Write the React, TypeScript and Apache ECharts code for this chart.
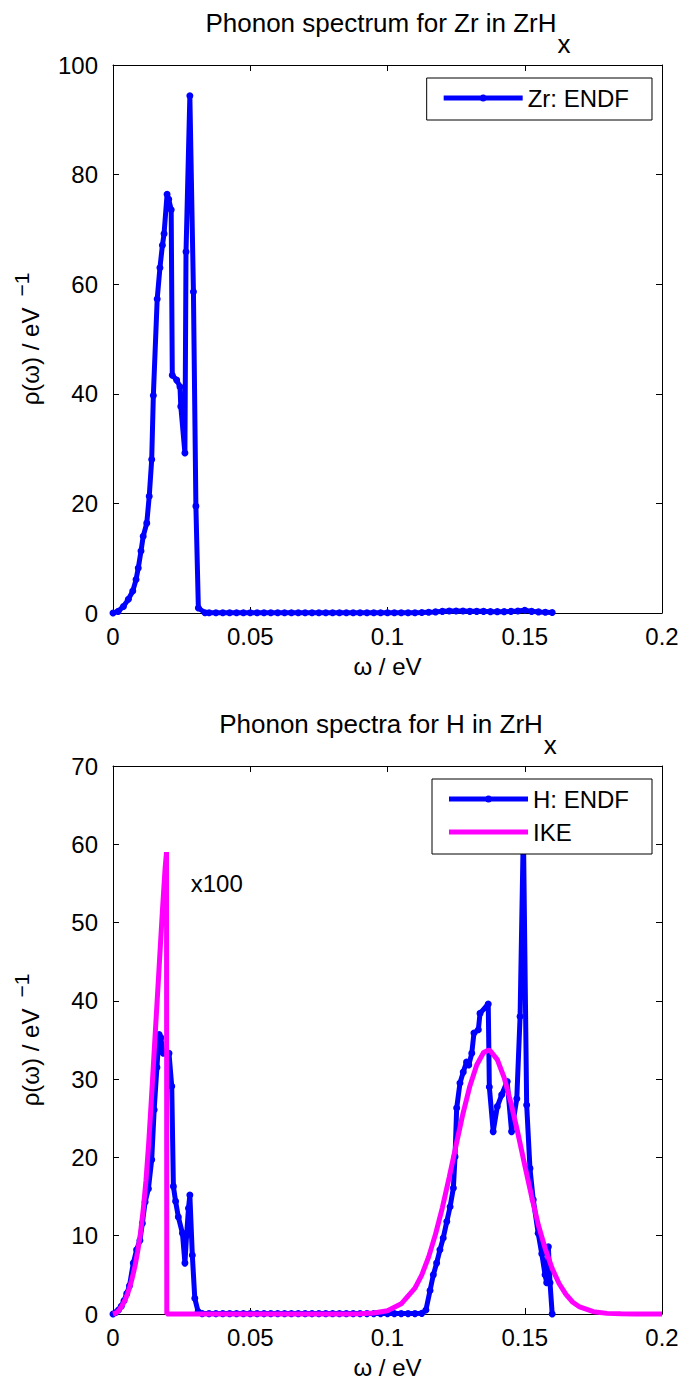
import React, { useEffect, useRef } from 'react';
import * as echarts from 'echarts';

const FONT = '"Liberation Sans", Arial, Helvetica, sans-serif';
const BLUE = '#0000ff';
const MAGENTA = '#ff00ff';

const xTickValues = [0, 0.05, 0.1, 0.15, 0.2];

// Zr: ENDF phonon spectrum  [omega (eV), rho (1/eV)]
const zrEndf: [number, number][] = [
  [0, 0], [0.0019, 0.3], [0.0038, 1.2], [0.0056, 2.5], [0.0072, 4.0], [0.0084, 6.1],
  [0.0092, 8.2], [0.0102, 11.3], [0.011, 14.0], [0.0123, 16.4], [0.0132, 21.3],
  [0.0141, 28.0], [0.0147, 39.7], [0.0161, 57.3], [0.0171, 63.0], [0.018, 67.1],
  [0.0186, 69.2], [0.0197, 76.4], [0.0203, 75.5], [0.0212, 73.6], [0.0216, 43.4],
  [0.0232, 42.5], [0.0244, 41.3], [0.0247, 37.7], [0.0262, 29.2], [0.0266, 65.9],
  [0.028, 94.4], [0.0293, 58.6], [0.0302, 19.5], [0.0311, 0.9], [0.0335, 0.05],
  [0.035, 0.05], [0.0375, 0.05], [0.04, 0.05], [0.0425, 0.05], [0.045, 0.05],
  [0.0475, 0.05], [0.05, 0.05], [0.0525, 0.05], [0.055, 0.05], [0.0575, 0.05],
  [0.06, 0.05], [0.0625, 0.05], [0.065, 0.05], [0.0675, 0.05], [0.07, 0.05],
  [0.0725, 0.05], [0.075, 0.05], [0.0775, 0.05], [0.08, 0.05], [0.0825, 0.05],
  [0.085, 0.05], [0.0875, 0.05], [0.09, 0.05], [0.0925, 0.05], [0.095, 0.05],
  [0.0975, 0.05], [0.1, 0.05], [0.1025, 0.05], [0.105, 0.05], [0.1075, 0.05],
  [0.11, 0.05], [0.1125, 0.08], [0.115, 0.15], [0.1175, 0.2], [0.12, 0.3],
  [0.1225, 0.35], [0.125, 0.35], [0.1275, 0.35], [0.13, 0.3], [0.1325, 0.3],
  [0.135, 0.3], [0.1375, 0.25], [0.14, 0.25], [0.1425, 0.25], [0.145, 0.3],
  [0.1475, 0.35], [0.15, 0.5], [0.1525, 0.3], [0.155, 0.2], [0.1575, 0.15], [0.16, 0.1],
];

// H: ENDF phonon spectrum
const hEndf: [number, number][] = [
  [0, 0], [0.001, 0.2], [0.002, 0.5], [0.003, 1.0], [0.004, 1.7], [0.005, 2.6],
  [0.006, 3.6], [0.0074, 6.5], [0.0086, 8.2], [0.0098, 9.4], [0.0107, 11.6],
  [0.0117, 14.3], [0.0129, 16.0], [0.0141, 19.7], [0.015, 26.1], [0.016, 31.5],
  [0.0168, 35.7], [0.0174, 35.3], [0.0183, 33.3], [0.0204, 33.3], [0.0214, 29.1],
  [0.022, 16.3], [0.0228, 14.4], [0.0238, 12.4], [0.0253, 10.3], [0.0262, 6.5],
  [0.0268, 10.0], [0.0275, 13.5], [0.028, 15.2], [0.0289, 7.5], [0.0298, 2.0],
  [0.031, 0.3], [0.0325, 0.05], [0.035, 0.05], [0.0375, 0.05], [0.04, 0.05],
  [0.0425, 0.05], [0.045, 0.05], [0.0475, 0.05], [0.05, 0.05], [0.0525, 0.05],
  [0.055, 0.05], [0.0575, 0.05], [0.06, 0.05], [0.0625, 0.05], [0.065, 0.05],
  [0.0675, 0.05], [0.07, 0.05], [0.0725, 0.05], [0.075, 0.05], [0.0775, 0.05],
  [0.08, 0.05], [0.0825, 0.05], [0.085, 0.05], [0.0875, 0.05], [0.09, 0.05],
  [0.0925, 0.05], [0.095, 0.05], [0.0975, 0.05], [0.1, 0.05], [0.1025, 0.05],
  [0.105, 0.05], [0.1075, 0.05], [0.11, 0.05], [0.1125, 0.08], [0.114, 0.5],
  [0.1155, 3.0], [0.1167, 5.0], [0.1179, 6.5], [0.1191, 8.2], [0.1203, 9.7],
  [0.1216, 11.8], [0.1228, 13.7], [0.124, 16.1], [0.1246, 20.1], [0.1252, 26.3],
  [0.1264, 29.5], [0.1276, 30.9], [0.1288, 32.2], [0.1296, 31.8], [0.1307, 33.3],
  [0.1315, 35.9], [0.1331, 36.3], [0.1337, 38.4], [0.1367, 39.6], [0.1371, 29.0],
  [0.1385, 23.3], [0.14, 26.5], [0.1416, 28.0], [0.1436, 29.7], [0.1452, 23.3],
  [0.1471, 27.5], [0.1483, 38.0], [0.1495, 62.0], [0.1507, 26.7], [0.1519, 18.6],
  [0.1531, 14.6], [0.1549, 10.3], [0.1562, 7.7], [0.1574, 5.0], [0.158, 4.0],
  [0.1586, 8.6], [0.1592, 4.0], [0.16, 0],
];

// IKE model spectrum
const ikeModel: [number, number][] = [
  [0, 0], [0.001, 0.1], [0.002, 0.4], [0.003, 0.9], [0.004, 1.5], [0.005, 2.3],
  [0.006, 3.3], [0.007, 4.6], [0.008, 6.1], [0.009, 8.0], [0.01, 10.3], [0.011, 13.3],
  [0.012, 17.0], [0.013, 21.8], [0.014, 27.5], [0.015, 33.5], [0.016, 39.5],
  [0.017, 45.5], [0.018, 51.5], [0.019, 57.0], [0.0195, 59.0], [0.0196, 0],
  [0.05, 0], [0.085, 0.01], [0.09, 0.03], [0.095, 0.12], [0.1, 0.42], [0.105, 1.3],
  [0.11, 3.3], [0.1125, 5.0], [0.115, 7.3], [0.1175, 10.2], [0.12, 13.6],
  [0.1225, 17.5], [0.125, 21.6], [0.1275, 25.6], [0.13, 29.1], [0.1325, 31.8],
  [0.135, 33.4], [0.1367, 33.7], [0.1375, 33.6], [0.14, 32.5], [0.1425, 30.2],
  [0.145, 26.9], [0.1475, 23.1], [0.15, 19.0], [0.1525, 15.0], [0.155, 11.3],
  [0.1575, 8.3], [0.16, 5.8], [0.1625, 3.9], [0.165, 2.5], [0.1675, 1.5],
  [0.17, 0.9], [0.175, 0.3], [0.18, 0.08], [0.185, 0.02], [0.19, 0], [0.2, 0],
];

const zrYTicks = [0, 20, 40, 60, 80, 100];
const hYTicks = [0, 10, 20, 30, 40, 50, 60, 70];

const DOT_LINE_ICON = 'path://M0,2.5L79,2.5L79,7.5L0,7.5Z M36,5a3.5,3.5 0 1,1 7,0a3.5,3.5 0 1,1 -7,0Z';
const LINE_ICON = 'path://M0,2.5L79,2.5L79,7.5L0,7.5Z';

const FS = 24;
const TITLE_FS = 26;

function measure(text: string, font: string): number {
  const ctx = document.createElement('canvas').getContext('2d');
  if (!ctx) return text.length * 12;
  ctx.font = font;
  return ctx.measureText(text).width;
}

export default function App() {
  const ref = useRef<HTMLDivElement>(null);

  useEffect(() => {
    if (!ref.current) return;
    const chart = echarts.init(ref.current, null, { renderer: 'svg' });

    const grids = [
      { left: 113, top: 65, width: 549, height: 548 },
      { left: 113, top: 766, width: 549, height: 548 },
    ];

    const tickLabel = { fontSize: FS, color: '#000', fontFamily: FONT };
    const axisLine = { show: true, onZero: false, lineStyle: { color: '#000', width: 1 } };
    const axisTick = { show: true, inside: true, length: 6, lineStyle: { color: '#000', width: 1 } };

    const xFmt = (v: number) => (v === 0 ? '0' : String(+v.toFixed(2)));
    const mkX = (gridIndex: number, position: 'top' | 'bottom') => ({
      type: 'value', gridIndex, position,
      min: xTickValues[0], max: xTickValues[xTickValues.length - 1],
      interval: xTickValues[1] - xTickValues[0],
      axisLine, axisTick,
      splitLine: { show: false },
      axisLabel: position === 'bottom'
        ? { show: true, margin: 11, formatter: xFmt, ...tickLabel }
        : { show: false },
    });
    const mkY = (gridIndex: number, position: 'left' | 'right', ticks: number[]) => ({
      type: 'value', gridIndex, position,
      min: ticks[0], max: ticks[ticks.length - 1], interval: ticks[1] - ticks[0],
      axisLine, axisTick,
      splitLine: { show: false },
      axisLabel: position === 'left'
        ? { show: true, margin: 15, ...tickLabel }
        : { show: false },
    });

    const legendCommon = {
      orient: 'vertical',
      right: 34,
      itemWidth: 79,
      itemHeight: 7,
      itemGap: 9,
      padding: [8, 23, 10, 17],
      backgroundColor: '#fff',
      borderColor: '#000',
      borderWidth: 1,
      borderRadius: 0,
      selectedMode: false,
      itemStyle: { borderWidth: 0 },
      textStyle: { fontSize: FS, color: '#000', fontFamily: FONT },
    };

    const font = (size: number) => `${size}px ${FONT}`;
    const txt = (x: number, y: number, text: string, size: number, align = 'center', rotation = 0) => ({
      type: 'text', x, y, rotation, silent: true,
      style: { text, fill: '#000', font: font(size), align, verticalAlign: 'middle' },
    });

    // Title with subscript x
    const titleEls = (text: string, cy: number) => {
      const wMain = measure(text, font(TITLE_FS));
      const wSub = measure('x', font(TITLE_FS));
      const x0 = 387.5 - (wMain + wSub) / 2;
      return [
        txt(x0, cy, text, TITLE_FS, 'left'),
        txt(x0 + wMain + 1, cy + 21, 'x', TITLE_FS, 'left'),
      ];
    };

    // Rotated y label with superscript −1
    const yLabelEls = (cy: number) => {
      const main = 'ρ(ω) / eV';
      const sub = '−1';
      const wMain = measure(main, font(FS));
      const wSub = measure(sub, font(21));
      const gap = 11;
      const total = wMain + gap + wSub;
      const bottom = cy + total / 2;
      return [
        txt(30, bottom - wMain / 2, main, FS, 'center', Math.PI / 2),
        txt(21, bottom - wMain - gap - wSub / 2, sub, 21, 'center', Math.PI / 2),
      ];
    };

    const option: any = {
      animation: false,
      backgroundColor: '#fff',
      grid: grids.map((g) => ({ ...g, show: false, containLabel: false })),
      xAxis: [mkX(0, 'bottom'), mkX(0, 'top'), mkX(1, 'bottom'), mkX(1, 'top')],
      yAxis: [
        mkY(0, 'left', zrYTicks), mkY(0, 'right', zrYTicks),
        mkY(1, 'left', hYTicks), mkY(1, 'right', hYTicks),
      ],
      legend: [
        { ...legendCommon, top: 78, data: [{ name: 'Zr: ENDF', icon: DOT_LINE_ICON }] },
        {
          ...legendCommon, top: 779,
          data: [{ name: 'H: ENDF', icon: DOT_LINE_ICON }, { name: 'IKE', icon: LINE_ICON }],
        },
      ],
      series: [
        {
          name: 'Zr: ENDF', type: 'line', xAxisIndex: 0, yAxisIndex: 0, data: zrEndf,
          clip: false, symbol: 'circle', symbolSize: 7, showSymbol: true, showAllSymbol: true,
          lineStyle: { color: BLUE, width: 5 }, itemStyle: { color: BLUE, borderWidth: 0 },
          z: 2,
        },
        {
          name: 'H: ENDF', type: 'line', xAxisIndex: 2, yAxisIndex: 2, data: hEndf,
          clip: false, symbol: 'circle', symbolSize: 7, showSymbol: true, showAllSymbol: true,
          lineStyle: { color: BLUE, width: 5 }, itemStyle: { color: BLUE, borderWidth: 0 },
          z: 2,
        },
        {
          name: 'IKE', type: 'line', xAxisIndex: 2, yAxisIndex: 2, data: ikeModel,
          clip: false, showSymbol: false, symbol: 'none',
          lineStyle: { color: MAGENTA, width: 5 }, itemStyle: { color: MAGENTA, borderWidth: 0 },
          z: 3,
        },
      ],
    };

    chart.setOption(option);

    const x100 = chart.convertToPixel({ xAxisIndex: 2, yAxisIndex: 2 } as any, [0.0283, 55]) as number[];

    chart.setOption({
      graphic: [
        ...titleEls('Phonon spectrum for Zr in ZrH', 23),
        ...titleEls('Phonon spectra for H in ZrH', 724),
        txt(387.5, 666, 'ω / eV', FS),
        txt(387.5, 1367, 'ω / eV', FS),
        ...yLabelEls(339),
        ...yLabelEls(1040),
        txt(x100[0], x100[1], 'x100', FS, 'left'),
      ],
    });

    return () => chart.dispose();
  }, []);

  return (
    <div
      ref={ref}
      style={{ position: 'absolute', left: 0, top: 0, width: 686, height: 1383, background: '#fff' }}
    />
  );
}
